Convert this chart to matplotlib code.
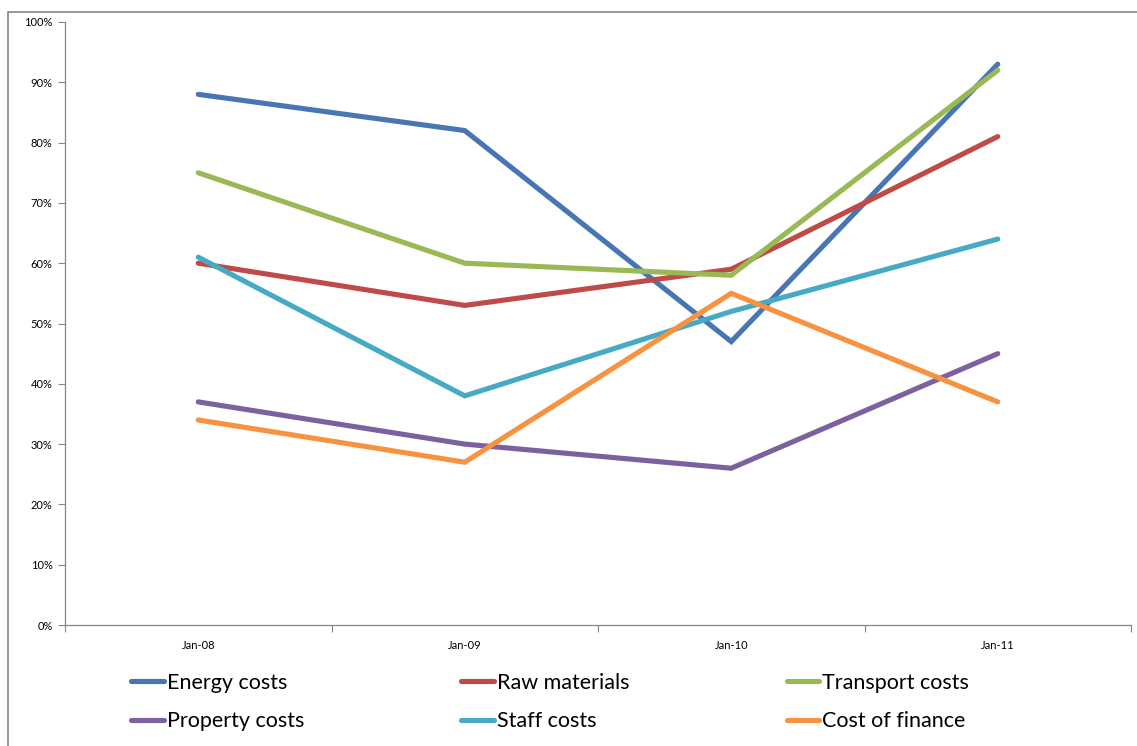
import matplotlib
matplotlib.use("Agg")
import matplotlib.pyplot as plt
from matplotlib.patches import Rectangle
from matplotlib.ticker import PercentFormatter, FixedLocator, NullFormatter

plt.rcParams['font.family'] = ['Lato', 'DejaVu Sans']

# data (percent)
dates = ['Jan-08', 'Jan-09', 'Jan-10', 'Jan-11']
energy = [88, 82, 47, 93]
raw_materials = [60, 53, 59, 81]
transport = [75, 60, 58, 92]
property_costs = [37, 30, 26, 45]
staff = [61, 38, 52, 64]
finance = [34, 27, 55, 37]

series = [
    ('Energy costs', energy, '#4876B3'),
    ('Raw materials', raw_materials, '#BE4B48'),
    ('Transport costs', transport, '#98B954'),
    ('Property costs', property_costs, '#7D60A0'),
    ('Staff costs', staff, '#46AAC5'),
    ('Cost of finance', finance, '#F69240'),
]

W, H = 1137, 746
fig = plt.figure(figsize=(W / 100, H / 100), dpi=100)
ax = fig.add_axes([65 / W, (H - 625) / H, (1131 - 65) / W, (625 - 22) / H])

x = [i + 0.5 for i in range(len(dates))]
for name, vals, col in series:
    ax.plot(x, vals, color=col, lw=3.7, label=name, solid_capstyle='round',
            solid_joinstyle='miter')

ax.set_xlim(0, len(dates))
ax.set_ylim(0, 100)
ax.set_yticks(range(0, 101, 10))
ax.yaxis.set_major_formatter(PercentFormatter(decimals=0))
ax.xaxis.set_major_locator(FixedLocator(range(len(dates) + 1)))
ax.xaxis.set_major_formatter(NullFormatter())
ax.set_xticks(x, minor=True)
ax.set_xticklabels(dates, minor=True)
ax.tick_params(axis='x', which='minor', length=0, pad=11, labelsize=8)
ax.tick_params(axis='x', which='major', length=5, color='#868686', direction='out')
ax.tick_params(axis='y', length=5, color='#868686', direction='out', labelsize=8, pad=4)

for s in ['top', 'right']:
    ax.spines[s].set_visible(False)
for s in ['left', 'bottom']:
    ax.spines[s].set_color('#868686')
    ax.spines[s].set_linewidth(0.9)

# outer chart border
fig.patches.append(Rectangle((8 / W, -0.01), 1.02, (H - 12) / H + 0.01, transform=fig.transFigure,
                             fill=False, ec='#868686', lw=1.2))

# legend is filled row by row in the reference: reorder for column-major fill
handles, labels = ax.get_legend_handles_labels()
order = [0, 3, 1, 4, 2, 5]
fig.legend([handles[i] for i in order], [labels[i] for i in order], ncol=3,
           loc='center left', bbox_to_anchor=(112 / W, (H - 702) / H), frameon=False,
           fontsize=15.5, handlelength=1.5, handletextpad=0.15,
           columnspacing=7.3, labelspacing=0.85)

fig.savefig('out.png', dpi=100)
